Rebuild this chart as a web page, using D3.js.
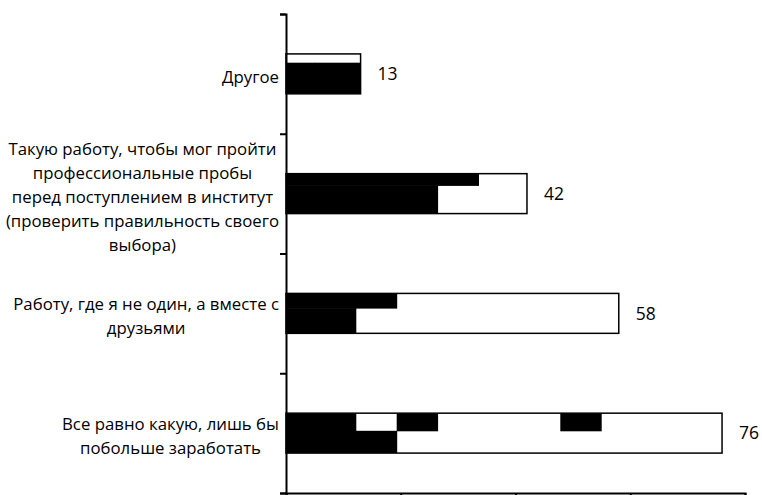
<!DOCTYPE html>
<html>
<head>
<meta charset="utf-8">
<script src="https://cdn.jsdelivr.net/npm/d3@7"></script>
<style>
  body { margin: 0; background: #fff; }
  svg { display: block; }
</style>
</head>
<body>
<div id="container"></div>
<script>
/* Données du graphe */
const categories = [
  "Другое",
  "Такую работу, чтобы мог пройти\nпрофессиональные пробы\nперед поступлением в институт\n(проверить правильность своего\nвыбора)",
  "Работу, где я не один, а вместе с\nдрузьями",
  "Все равно какую, лишь бы\nпобольше заработать"
];
const values = [13, 42, 58, 76];
const xTicks = [0, 20, 40, 60, 80];

/* Texture de remplissage des barres (cases noires, ligne haute / ligne basse) */
const texture = [
  ["000", "111"],
  ["11111000", "11110000"],
  ["111000000000", "110000000000"],
  ["11010001000", "11100000000"]
];

const width = 762, height = 495;
const margin = {top: 14, right: 17, bottom: 2, left: 286};
const cell = 40.9, gridX0 = 274, gridY0 = 62.7;
const fontPolice = "'Open Sans', sans-serif";

const svg = d3.select("#container").append("svg")
  .attr("width", width)
  .attr("height", height);

const x = d3.scaleLinear()
  .domain([0, 80])
  .range([margin.left, width - margin.right]);

const y = d3.scaleBand()
  .domain(d3.range(categories.length))
  .range([margin.top, height - margin.bottom]);

const yTick = d3.scaleLinear()
  .domain([0, categories.length])
  .range([margin.top, height - margin.bottom]);

const barH = y.bandwidth() / 3;

/* Barres */
const bars = svg.append("g").selectAll("g")
  .data(values)
  .enter().append("g");

bars.append("clipPath")
  .attr("id", (d, i) => "clip" + i)
  .append("rect")
    .attr("x", x(0))
    .attr("y", (d, i) => y(i) + y.bandwidth() / 2 - barH / 2)
    .attr("width", d => x(d) - x(0))
    .attr("height", barH);

bars.append("rect")
  .attr("x", x(0))
  .attr("y", (d, i) => y(i) + y.bandwidth() / 2 - barH / 2)
  .attr("width", d => x(d) - x(0))
  .attr("height", barH)
  .attr("fill", "#fff");

bars.each(function(d, i) {
  const top = y(i) + y.bandwidth() / 2 - barH / 2;
  const row0 = gridY0 + Math.ceil((top - gridY0) / cell) * cell - cell;
  const cells = [];
  texture[i].forEach(function(bits, r) {
    bits.split("").forEach(function(b, c) {
      if (b === "1") cells.push({r: r, c: c});
    });
  });
  d3.select(this).append("g")
    .attr("clip-path", "url(#clip" + i + ")")
    .selectAll("rect")
    .data(cells)
    .enter().append("rect")
      .attr("x", c => gridX0 + c.c * cell)
      .attr("y", c => row0 + c.r * cell)
      .attr("width", cell + 0.5)
      .attr("height", cell + 0.5)
      .attr("fill", "#000");
});

bars.append("rect")
  .attr("x", x(0))
  .attr("y", (d, i) => y(i) + y.bandwidth() / 2 - barH / 2)
  .attr("width", d => x(d) - x(0))
  .attr("height", barH)
  .attr("fill", "none")
  .attr("stroke", "#000")
  .attr("stroke-width", 1.5);

/* Etiquettes des valeurs */
svg.append("g").selectAll("text")
  .data(values)
  .enter().append("text")
    .attr("x", d => x(d) + 17)
    .attr("y", (d, i) => y(i) + y.bandwidth() / 2)
    .attr("dy", "0.35em")
    .style("font-family", fontPolice)
    .style("font-size", "17.5px")
    .style("fill", "#000")
    .text(d => d);

/* Axes */
svg.append("g")
  .attr("transform", "translate(0," + (height - margin.bottom) + ")")
  .call(d3.axisBottom(x).tickValues(xTicks).tickSize(6).tickFormat(""))
  .call(g => g.selectAll("path, line").attr("stroke", "#000").attr("stroke-width", 2));

svg.append("g")
  .attr("transform", "translate(" + x(0) + ",0)")
  .call(d3.axisLeft(yTick).tickValues(d3.range(categories.length + 1)).tickSize(6).tickFormat(""))
  .call(g => g.selectAll("path, line").attr("stroke", "#000").attr("stroke-width", 2));

/* Etiquettes des catégories */
const lineH = 24, labelRight = 279;
categories.forEach(function(label, i) {
  const lines = label.split("\n");
  const g = svg.append("g");
  const texts = g.selectAll("text")
    .data(lines)
    .enter().append("text")
      .style("font-family", fontPolice)
      .style("font-size", "16.8px")
      .style("fill", "#000")
      .attr("text-anchor", "middle")
      .attr("dy", "0.35em")
      .text(d => d);
  let maxW = 0;
  texts.each(function() { maxW = Math.max(maxW, this.getComputedTextLength()); });
  const cy = y(i) + y.bandwidth() / 2 + 3;
  texts
    .attr("x", labelRight - maxW / 2)
    .attr("y", (d, j) => cy + (j - (lines.length - 1) / 2) * lineH);
});
</script>
</body>
</html>
